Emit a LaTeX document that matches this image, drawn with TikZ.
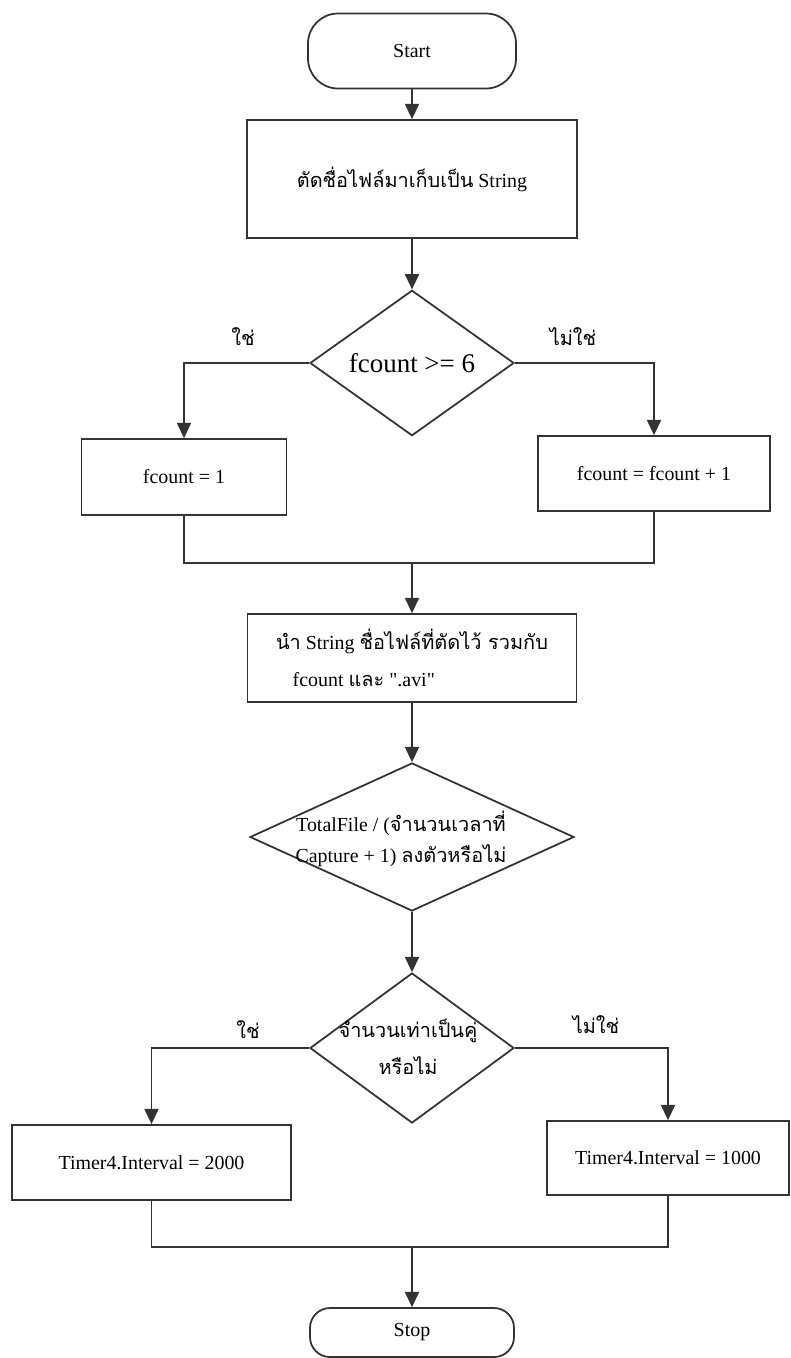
\documentclass[tikz,border=0pt]{standalone}
\usepackage{fontspec}
\setmainfont{Liberation Serif}
\newfontfamily\thaifont[Script=Thai]{Loma}
\usetikzlibrary{shapes.geometric,arrows.meta}

\tikzset{
  line/.style={draw=black!80, line width=1.5pt},
  flow/.style={line, -{Triangle[length=13pt,width=12pt]}},
  term/.style={line, rectangle, rounded corners=0.9cm, minimum width=6.24cm, minimum height=2.25cm},
  proc/.style={line, rectangle, inner sep=4pt},
  decision/.style={line, diamond, inner sep=0pt, align=center},
}

\begin{document}
\begin{tikzpicture}[x=0.03cm, y=-0.03cm, font=\fontsize{17}{24}\selectfont]
\useasboundingbox[fill=white] (0,0) rectangle (791,1358);

% top part
\node[term] (start) at (412,51) {Start};
\node[proc, minimum width=9.9cm, minimum height=3.54cm] (cut) at (412,179)
  {{\thaifont ตัดชื่อไฟล์มาเก็บเป็น} String};
\node[decision, minimum width=6.12cm, minimum height=3.78cm,
  font=\fontsize{23}{28}\selectfont] (check) at (412,363) {fcount >= 6};
\node (yes1) at (243,337) {\thaifont ใช่};
\node (no1) at (573,337) {\thaifont ไม่ใช่};
\node[proc, minimum width=6.15cm, minimum height=2.28cm] (reset) at (184,477) {fcount = 1};
\node[proc, minimum width=6.96cm, minimum height=2.25cm] (incr) at (654,473.5) {fcount = fcount + 1};
\coordinate (join1) at (412,563);
\node[proc, minimum width=9.87cm, minimum height=2.64cm, align=left,
  font=\fontsize{17}{32}\selectfont] (concat) at (412,658)
  {{\thaifont นำ} String {\thaifont ชื่อไฟล์ที่ตัดไว้ รวมกับ}\\
   \hspace*{0.5cm}fcount {\thaifont และ} \textquotedbl.avi\textquotedbl};

% bottom part
\node[decision, minimum width=9.72cm, minimum height=4.44cm] (ratio) at (412,837) {};
\node[align=center, font=\fontsize{17}{27}\selectfont] (ratiotext) at (401,839)
  {TotalFile / ({\thaifont จำนวนเวลาที่}\\Capture + 1) {\thaifont ลงตัวหรือไม่}};
\node[decision, minimum width=6.12cm, minimum height=4.5cm] (even) at (412,1048) {};
\node[align=center, font=\fontsize{17}{32}\selectfont\thaifont] (eventext) at (408,1047)
  {จำนวนเท่าเป็นคู่\\หรือไม่};
\node (yes2) at (248,1030) {\thaifont ใช่};
\node (no2) at (596,1025) {\thaifont ไม่ใช่};
\node[proc, minimum width=8.37cm, minimum height=2.25cm] (slow) at (151.5,1162.5) {Timer4.Interval = 2000};
\node[proc, minimum width=7.26cm, minimum height=2.22cm] (fast) at (668,1158) {Timer4.Interval = 1000};
\coordinate (join2) at (412,1247);
\node[term, rounded corners=0.6cm, minimum width=6.12cm, minimum height=1.47cm] (stop) at (412,1332.5) {Stop};

% connectors
\draw[flow] (start) -- (cut);
\draw[flow] (cut) -- (check);
\draw[flow] (check.west) -| (reset.north);
\draw[flow] (check.east) -| (incr.north);
\draw[line] (reset.south) |- (join1) -| (incr.south);
\draw[flow] (join1) -- (concat.north);
\draw[flow] (concat) -- (ratio);
\draw[flow] (ratio) -- (even);
\draw[flow] (even.west) -| (slow.north);
\draw[flow] (even.east) -| (fast.north);
\draw[line] (slow.south) |- (join2) -| (fast.south);
\draw[flow] (join2) -- (stop.north);
\end{tikzpicture}
\end{document}
